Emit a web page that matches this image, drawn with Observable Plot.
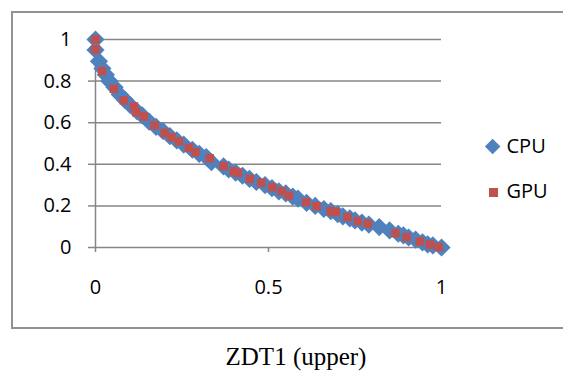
<!DOCTYPE html>
<html><head><meta charset="utf-8">
<script src="https://cdn.jsdelivr.net/npm/d3@7"></script>
<script src="https://cdn.jsdelivr.net/npm/@observablehq/plot@0.6"></script>
<style>
body{margin:0;background:#fff;}
#wrap{position:relative;width:563px;height:373px;overflow:hidden;background:#fff;}
#chart{position:absolute;left:0;top:0;}
#frame{position:absolute;left:11px;top:11px;width:590px;height:318px;border:2px solid #929292;box-sizing:border-box;pointer-events:none;}
.lt{position:absolute;font-family:"Open Sans";font-size:20px;line-height:20px;color:#000;white-space:nowrap;}
#dia{position:absolute;left:487.35px;top:141.35px;width:11.3px;height:11.3px;background:#4F81BD;transform:rotate(45deg);}
#sq{position:absolute;left:488.5px;top:187.5px;width:9px;height:9px;background:#C0504D;}
#cap{position:absolute;left:0;top:345px;width:592px;text-align:center;font-family:"Liberation Serif";font-size:25px;line-height:24px;color:#000;}
</style></head>
<body>
<div id="wrap">
  <div id="frame"></div>
  <div id="chart"></div>
  <div id="dia"></div><div class="lt" id="l1" style="left:506.5px;top:135.6px;"></div>
  <div id="sq"></div><div class="lt" id="l2" style="left:506.5px;top:181.3px;"></div>
  <div id="cap"></div>
</div>
<script>
const seriesNames = ["CPU", "GPU"];
const caption = "ZDT1 (upper)";
const xTicks = [0, 0.5, 1];
const xTickLabels = ["0", "0.5", "1"];
const yTicks = [0, 0.2, 0.4, 0.6, 0.8, 1];
const yTickLabels = ["0", "0.2", "0.4", "0.6", "0.8", "1"];

const cpuX = [0, 0, 0.01, 0.02, 0.03, 0.04, 0.055, 0.07, 0.085, 0.10, 0.12, 0.135, 0.155, 0.175, 0.195, 0.215, 0.235, 0.255, 0.28, 0.30, 0.32, 0.335, 0.37, 0.385, 0.405, 0.425, 0.445, 0.465, 0.49, 0.51, 0.53, 0.55, 0.57, 0.585, 0.61, 0.635, 0.66, 0.68, 0.70, 0.715, 0.735, 0.75, 0.77, 0.79, 0.82, 0.85, 0.875, 0.89, 0.905, 0.925, 0.945, 0.96, 0.975, 1.0];
const cpuY = [1.0, 0.95, 0.895, 0.86, 0.83, 0.80, 0.77, 0.735, 0.71, 0.685, 0.655, 0.635, 0.605, 0.58, 0.56, 0.535, 0.515, 0.495, 0.47, 0.45, 0.435, 0.41, 0.39, 0.375, 0.36, 0.345, 0.33, 0.315, 0.30, 0.285, 0.27, 0.26, 0.245, 0.235, 0.215, 0.20, 0.185, 0.175, 0.16, 0.15, 0.14, 0.13, 0.12, 0.11, 0.098, 0.082, 0.066, 0.058, 0.048, 0.038, 0.025, 0.015, 0.01, 0.0];
const gpuX = [0, 0, 0.019, 0.053, 0.082, 0.111, 0.118, 0.140, 0.171, 0.200, 0.220, 0.241, 0.270, 0.289, 0.330, 0.370, 0.399, 0.412, 0.446, 0.479, 0.511, 0.538, 0.559, 0.609, 0.639, 0.679, 0.694, 0.728, 0.758, 0.787, 0.867, 0.899, 0.937, 0.966, 0.992];
const gpuY = [1.0, 0.952, 0.848, 0.763, 0.707, 0.678, 0.650, 0.630, 0.587, 0.551, 0.530, 0.510, 0.479, 0.458, 0.429, 0.391, 0.367, 0.359, 0.330, 0.311, 0.290, 0.271, 0.250, 0.218, 0.199, 0.175, 0.170, 0.146, 0.127, 0.114, 0.069, 0.050, 0.029, 0.014, 0.002];

const cpu = cpuX.map((x, i) => ({x, y: cpuY[i]}));
const gpu = gpuX.map((x, i) => ({x, y: gpuY[i]}));
const xLab = new Map(xTicks.map((t, i) => [t, xTickLabels[i]]));
const yLab = new Map(yTicks.map((t, i) => [t, yTickLabels[i]]));
const gridColor = "#868686";

const chart = Plot.plot({
  width: 563, height: 335,
  marginLeft: 95, marginRight: 122, marginTop: 39, marginBottom: 88,
  x: {domain: [0, 1]},
  y: {domain: [0, 1]},
  style: {fontFamily: "Open Sans", fontSize: "20px", color: "#000", background: "transparent", overflow: "visible"},
  marks: [
    Plot.gridY(yTicks, {stroke: gridColor, strokeOpacity: 1, strokeWidth: 1.5}),
    Plot.axisY(yTicks, {tickSize: 7, tickPadding: 17, stroke: gridColor, strokeWidth: 1.5, tickFormat: d => yLab.get(d), label: null, fill: "#000"}),
    Plot.axisX(xTicks, {tickSize: 5, tickPadding: 27, stroke: gridColor, strokeWidth: 1.5, tickFormat: d => xLab.get(d), label: null, fill: "#000"}),
    Plot.ruleX([0], {stroke: gridColor, strokeWidth: 1.5}),
    Plot.dot(cpu, {x: "x", y: "y", symbol: "diamond2", r: 8.2, fill: "#4F81BD", stroke: "none"}),
    Plot.dot(gpu, {x: "x", y: "y", symbol: "square", r: 4.8, fill: "#C0504D", stroke: "none"})
  ]
});
document.getElementById("chart").appendChild(chart);
document.getElementById("l1").textContent = seriesNames[0];
document.getElementById("l2").textContent = seriesNames[1];
document.getElementById("cap").textContent = caption;
</script>
</body></html>
